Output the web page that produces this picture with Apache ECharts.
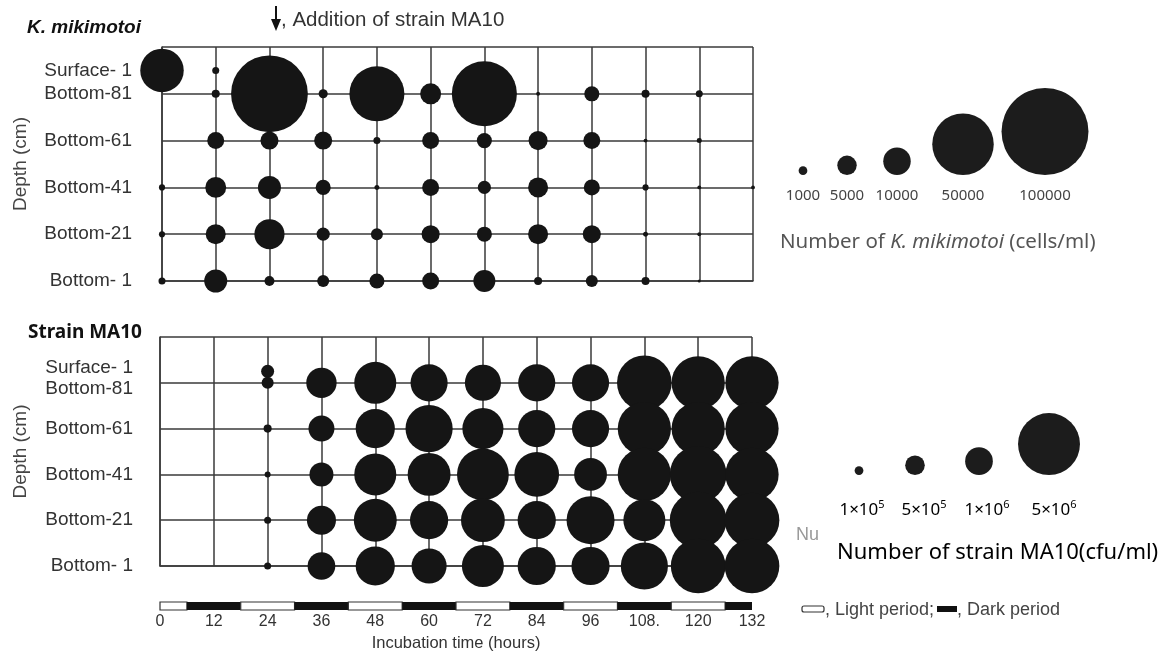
<!DOCTYPE html>
<html>
<head>
<meta charset="utf-8">
<script src="https://cdn.jsdelivr.net/npm/echarts@6/dist/echarts.min.js"></script>
<style>
  html, body { margin: 0; padding: 0; background: #fff; }
  #chart { width: 1176px; height: 656px; }
</style>
</head>
<body>
<div id="chart"></div>
<script>
// ---- data -------------------------------------------------------------
const hours = [0, 12, 24, 36, 48, 60, 72, 84, 96, 108, 120, 132];
const hourLabels = ['0', '12', '24', '36', '48', '60', '72', '84', '96', '108.', '120', '132'];
const depthNames = ['Surface- 1', 'Bottom-81', 'Bottom-61', 'Bottom-41', 'Bottom-21', 'Bottom- 1'];

// K. mikimotoi (cells/ml); null = not detected
const kmSurface1 = [25000, 650, null, null, null, null, null, null, null, null, null, null];
const kmBottom81 = [null, 850, 78000, 1100, 40000, 5800, 56000, 200, 3000, 850, 650, null];
const kmBottom61 = [null, 3800, 4300, 4300, 650, 3800, 3000, 4800, 3800, 200, 330, null];
const kmBottom41 = [500, 5800, 7000, 3000, 330, 3800, 2300, 5300, 3400, 500, 200, 200];
const kmBottom21 = [500, 5300, 12000, 2300, 1900, 4300, 3000, 5300, 4300, 330, 200, null];
const kmBottom1  = [650, 7000, 1300, 1900, 3000, 3800, 6400, 850, 1900, 850, 120, null];

// strain MA10 (cfu/ml); null = not detected
const maSurface1 = [null, null, 220000, null, null, null, null, null, null, null, null, null];
const maBottom81 = [null, null, 190000, 1200000, 2300000, 1800000, 1700000, 1800000, 1800000, 3900000, 3700000, 3700000];
const maBottom61 = [null, null, 85000, 880000, 2000000, 2900000, 2200000, 1800000, 1800000, 3700000, 3700000, 3700000];
const maBottom41 = [null, null, 47000, 750000, 2300000, 2400000, 3500000, 2600000, 1400000, 3700000, 4200000, 3700000];
const maBottom21 = [null, null, 64000, 1100000, 2400000, 1900000, 2500000, 1900000, 3000000, 2300000, 4200000, 3900000];
const maBottom1  = [null, null, 64000, 1000000, 2000000, 1600000, 2300000, 1900000, 1900000, 2900000, 3900000, 3900000];

// size keys
const kmKeyValues = [1000, 5000, 10000, 50000, 100000];
const kmKeyLabels = ['1000', '5000', '10000', '50000', '100000'];
const maKeyValues = [100000, 500000, 1000000, 5000000];
const maKeyMantissa = ['1', '5', '1', '5'];
const maKeyExponent = ['5', '5', '6', '6'];

// light/dark cycle: [start h, end h, phase]
const photoperiods = [
  [0, 6, 'light'], [6, 18, 'dark'], [18, 30, 'light'], [30, 42, 'dark'],
  [42, 54, 'light'], [54, 66, 'dark'], [66, 78, 'light'], [78, 90, 'dark'],
  [90, 102, 'light'], [102, 114, 'dark'], [114, 126, 'light'], [126, 132, 'dark']
];

// ---- layout -------------------------------------------------------------
// vertical slot of each depth row on the panel's y scale
const kmRowPos = [4.5, 4, 3, 2, 1, 0];
const maRowPos = [4.25, 4, 3, 2, 1, 0];
const kmKeyX = [803, 847, 897, 963, 1045];
const maKeyX = [859, 915, 979, 1049];
const maKeyLabelX = [862, 924, 987, 1054];

const kmSize = v => 0.275 * Math.sqrt(v);
const maSize = v => 0.0277 * Math.sqrt(v);

const kmRows = [kmSurface1, kmBottom81, kmBottom61, kmBottom41, kmBottom21, kmBottom1];
const maRows = [maSurface1, maBottom81, maBottom61, maBottom41, maBottom21, maBottom1];

function toPoints(rows, rowPos) {
  const pts = [];
  rows.forEach((row, r) => {
    row.forEach((v, i) => {
      if (v != null) pts.push([hours[i], rowPos[r], v]);
    });
  });
  return pts;
}

// depth label for a tick; the two crowded top rows get nudged apart
function rowLabel(rowPos, nudge) {
  return function (val) {
    for (let r = 0; r < rowPos.length; r++) {
      if (Math.abs(val - rowPos[r]) < 1e-6) {
        if (nudge && r === 0) return '{up|' + depthNames[r] + '}';
        if (nudge && r === 1) return '{down|' + depthNames[r] + '}';
        return depthNames[r];
      }
    }
    return '';
  };
}

const ink = '#151515';
const gridInk = '#3a3a3a';
const textInk = '#333';
const font = 'Liberation Sans, Arial, sans-serif';

function gridXAxis(gridIndex) {
  return {
    type: 'value', gridIndex, min: 0, max: 132, interval: 12,
    axisLine: { show: true, lineStyle: { color: gridInk, width: 1.5 } },
    axisTick: { show: false }, axisLabel: { show: false },
    splitLine: { show: true, lineStyle: { color: gridInk, width: 1.5 } }
  };
}
function gridYAxis(gridIndex) {
  return {
    type: 'value', gridIndex, position: 'left', min: 0, max: 5, interval: 1,
    axisLine: { show: true, lineStyle: { color: gridInk, width: 1.5 } },
    axisTick: { show: false }, axisLabel: { show: false },
    splitLine: { show: true, lineStyle: { color: gridInk, width: 1.5 } }
  };
}
function labelYAxis(gridIndex, rowPos, margin, nameGap, nudge) {
  const labelText = { fontSize: 19, fontFamily: font, color: textInk };
  return {
    type: 'value', gridIndex, position: 'left', offset: 0, min: 0, max: 5, interval: 0.25,
    axisLine: { show: false }, axisTick: { show: false },
    splitLine: { show: false },
    axisLabel: {
      show: true, margin, color: textInk, fontSize: 19, fontFamily: font,
      formatter: rowLabel(rowPos, nudge), showMinLabel: true, showMaxLabel: true,
      rich: {
        up: Object.assign({ padding: [0, 0, 8, 0] }, labelText),
        down: Object.assign({ padding: [12, 0, 0, 0] }, labelText)
      }
    },
    name: 'Depth (cm)', nameLocation: 'middle', nameRotate: 90, nameGap,
    nameTextStyle: { color: '#444', fontSize: 19, fontFamily: font }
  };
}

// key circles sit on a common baseline
function keyCircles(values, xs, base, sizeFn) {
  return values.map((v, i) => {
    const r = sizeFn(v) / 2;
    return { type: 'circle', shape: { cx: xs[i], cy: base - r, r }, style: { fill: '#1c1c1c' } };
  });
}

const graphics = [
  { type: 'text', x: 27, y: 28, style: { text: 'K. mikimotoi', font: 'italic bold 19px ' + font, fill: '#111', verticalAlign: 'middle' } },
  { type: 'text', x: 28, y: 333, style: { text: 'Strain MA10', font: 'bold 19px "Noto Sans", sans-serif', fill: '#111', verticalAlign: 'middle' } },
  // arrow marking the addition of MA10
  { type: 'line', shape: { x1: 276, y1: 6, x2: 276, y2: 22 }, style: { stroke: '#111', lineWidth: 2 } },
  { type: 'polygon', shape: { points: [[271, 19], [281, 19], [276, 31]] }, style: { fill: '#111' } },
  { type: 'text', x: 281, y: 20, style: { text: ', Addition of strain MA10', font: '20.5px ' + font, fill: textInk, verticalAlign: 'middle' } },
  // K. mikimotoi size key
  ...keyCircles(kmKeyValues, kmKeyX, 175, kmSize),
  ...kmKeyLabels.map((t, i) => ({
    type: 'text', x: kmKeyX[i], y: 196,
    style: { text: t, font: '15px "Noto Sans", sans-serif', fill: '#444', align: 'center', verticalAlign: 'middle' }
  })),
  { type: 'text', x: 780, y: 242, style: {
      text: 'Number of {i|K. mikimotoi} (cells/ml)', verticalAlign: 'middle',
      font: '20.5px "Noto Sans", sans-serif', fill: '#555',
      rich: { i: { fontStyle: 'italic', fontSize: 20.5, fontFamily: 'Noto Sans', fill: '#555' } }
  } },
  // MA10 size key
  ...keyCircles(maKeyValues, maKeyX, 475, maSize),
  ...maKeyValues.map((v, i) => ({
    type: 'text', x: maKeyLabelX[i], y: 510,
    style: {
      text: maKeyMantissa[i] + '×10{s|' + maKeyExponent[i] + '}',
      align: 'center', verticalAlign: 'middle',
      font: '17px "Noto Sans", sans-serif', fill: '#000',
      rich: { s: { fontSize: 11, fontFamily: 'Noto Sans', fill: '#000', padding: [0, 0, 10, 0] } }
    }
  })),
  { type: 'text', x: 796, y: 535, style: { text: 'Nu', font: '18px ' + font, fill: '#999', verticalAlign: 'middle' } },
  { type: 'text', x: 837, y: 553, style: { text: 'Number of strain MA10(cfu/ml)', font: '22px "Noto Sans", sans-serif', fill: '#000', verticalAlign: 'middle' } },
  // photoperiod key
  { type: 'rect', shape: { x: 802, y: 606, width: 22, height: 6, r: 2 }, style: { fill: '#fff', stroke: '#333', lineWidth: 1.2 } },
  { type: 'text', x: 825, y: 610, style: { text: ', Light period;', font: '18px ' + font, fill: '#444', verticalAlign: 'middle' } },
  { type: 'rect', shape: { x: 937, y: 606, width: 20, height: 6 }, style: { fill: '#111' } },
  { type: 'text', x: 957, y: 610, style: { text: ', Dark period', font: '18px ' + font, fill: '#444', verticalAlign: 'middle' } }
];

const chart = echarts.init(document.getElementById('chart'), null, { renderer: 'canvas' });
chart.setOption({
  backgroundColor: '#fff',
  animation: false,
  grid: [
    { left: 162, right: 423, top: 47, height: 234 },
    { left: 160, right: 424, top: 337, height: 229 },
    { left: 160, right: 424, top: 602, height: 8 }
  ],
  xAxis: [
    gridXAxis(0),
    gridXAxis(1),
    {
      type: 'value', gridIndex: 2, min: 0, max: 132, interval: 12,
      axisLine: { show: false }, axisTick: { show: false }, splitLine: { show: false },
      axisLabel: {
        show: true, margin: 4, color: textInk, fontSize: 16, fontFamily: font,
        formatter: v => hourLabels[hours.indexOf(v)] ?? ''
      },
      name: 'Incubation time (hours)', nameLocation: 'middle', nameGap: 25,
      nameTextStyle: { color: textInk, fontSize: 16.5, fontFamily: font }
    }
  ],
  yAxis: [
    gridYAxis(0),
    labelYAxis(0, kmRowPos, 30, 132, false),
    gridYAxis(1),
    labelYAxis(1, maRowPos, 27, 130, true),
    { type: 'value', gridIndex: 2, min: 0, max: 1, show: false }
  ],
  graphic: graphics,
  series: [
    {
      type: 'scatter', xAxisIndex: 0, yAxisIndex: 0, clip: false,
      data: toPoints(kmRows, kmRowPos),
      symbolSize: d => kmSize(d[2]),
      itemStyle: { color: ink, opacity: 1 }
    },
    {
      type: 'scatter', xAxisIndex: 1, yAxisIndex: 2, clip: false,
      data: toPoints(maRows, maRowPos),
      symbolSize: d => maSize(d[2]),
      itemStyle: { color: ink, opacity: 1 }
    },
    {
      type: 'custom', xAxisIndex: 2, yAxisIndex: 4, clip: false,
      data: photoperiods.map(p => [p[0], p[1], p[2] === 'dark' ? 1 : 0]),
      renderItem: (params, api) => {
        const a = api.coord([api.value(0), 1]);
        const b = api.coord([api.value(1), 0]);
        const dark = api.value(2) === 1;
        return {
          type: 'rect',
          shape: { x: a[0], y: a[1], width: b[0] - a[0], height: b[1] - a[1] },
          style: dark ? { fill: '#111' } : { fill: '#fff', stroke: '#333', lineWidth: 1.2 }
        };
      }
    }
  ]
});
</script>
</body>
</html>
